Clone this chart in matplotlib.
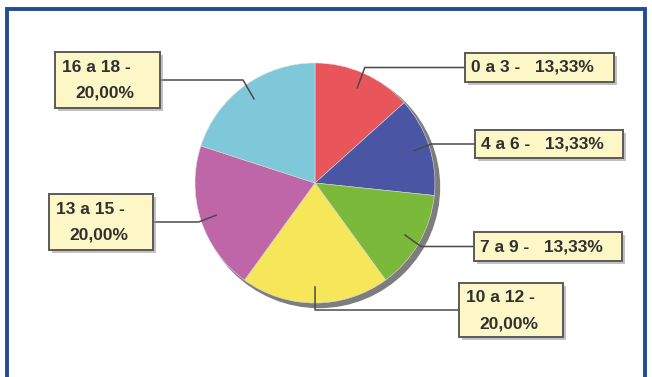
import numpy as np
import matplotlib
matplotlib.use("Agg")
import matplotlib.pyplot as plt
from matplotlib.patches import Rectangle, Circle

# ---- data ----
categories = ['0 a 3', '4 a 6', '7 a 9', '10 a 12', '13 a 15', '16 a 18']
values = [13.33, 13.33, 13.33, 20.00, 20.00, 20.00]
colors = ['#E8555B', '#4A55A4', '#7BB93A', '#F5E65A', '#BF66A8', '#7EC8D9']

W, H = 652, 377
fig = plt.figure(figsize=(W / 100, H / 100), dpi=100)
ax = fig.add_axes([0, 0, 1, 1])

def Y(y):
    return H - y

cx, cy, R = 315, Y(183), 120
# shadow ring
ax.add_patch(Circle((cx + 4, cy - 4), R + 0.5, color='#7D7D7D', zorder=2))
wedges, _ = ax.pie(values, colors=colors, startangle=90, counterclock=False,
                   center=(cx, cy), radius=R, frame=True,
                   wedgeprops=dict(edgecolor='#dddddd', linewidth=0.4))
for w in wedges:
    w.set_zorder(3)
ax.set_xlim(0, W)
ax.set_ylim(0, H)
ax.axis('off')

# frame
ax.add_patch(Rectangle((7, -10), 638, Y(9) + 10, fill=False,
                       edgecolor='#1E4D95', linewidth=2.8, zorder=1))

# label boxes: (x0, top, width, height, side)
boxes = [
    (465, 53, 149, 29, 'right'),
    (475, 130, 148, 28, 'right'),
    (474, 232, 148, 29, 'right'),
    (459, 283, 104, 54, 'right'),
    (49, 194, 104, 56, 'left'),
    (55, 52, 105, 56, 'left'),
]

def fmt(v):
    return f"{v:.2f}".replace('.', ',') + '%'

total = sum(values)
cum = 0
txt_kw = dict(fontsize=12.5, color='#303030', family='Liberation Sans',
              fontweight='bold', va='center', ha='left', zorder=7)
for i, (cat, v) in enumerate(zip(categories, values)):
    mid = 90 - 360 * (cum + v / 2) / total
    cum += v
    th = np.deg2rad(mid)
    x0, top, bw, bh, side = boxes[i]
    by = top + bh / 2
    ax_, ay_ = cx + 0.86 * R * np.cos(th), cy + 0.86 * R * np.sin(th)
    ex = cx + 1.02 * R * np.cos(th)
    attach_x = x0 if side == 'right' else x0 + bw
    ax.plot([ax_, ex, attach_x], [ay_, Y(by), Y(by)], color='#4a4a4a',
            linewidth=1.1, zorder=4, solid_capstyle='butt')
    # box shadow
    ax.add_patch(Rectangle((x0 + 2.5, Y(top + bh) - 2.5), bw, bh,
                           facecolor='#9a9a9a', edgecolor='none', alpha=0.6, zorder=5))
    ax.add_patch(Rectangle((x0, Y(top + bh)), bw, bh, facecolor='#FDF7C8',
                           edgecolor='#5a5a5a', linewidth=1.4, zorder=6))
    if bh < 40:
        ax.text(x0 + 6, Y(by), f"{cat} -   {fmt(v)}", **txt_kw)
    else:
        ax.text(x0 + 7, Y(top + 15), f"{cat} -", **txt_kw)
        ax.text(x0 + 20, Y(top + 41), fmt(v), **txt_kw)

fig.savefig('out.png', dpi=100, facecolor='white')
